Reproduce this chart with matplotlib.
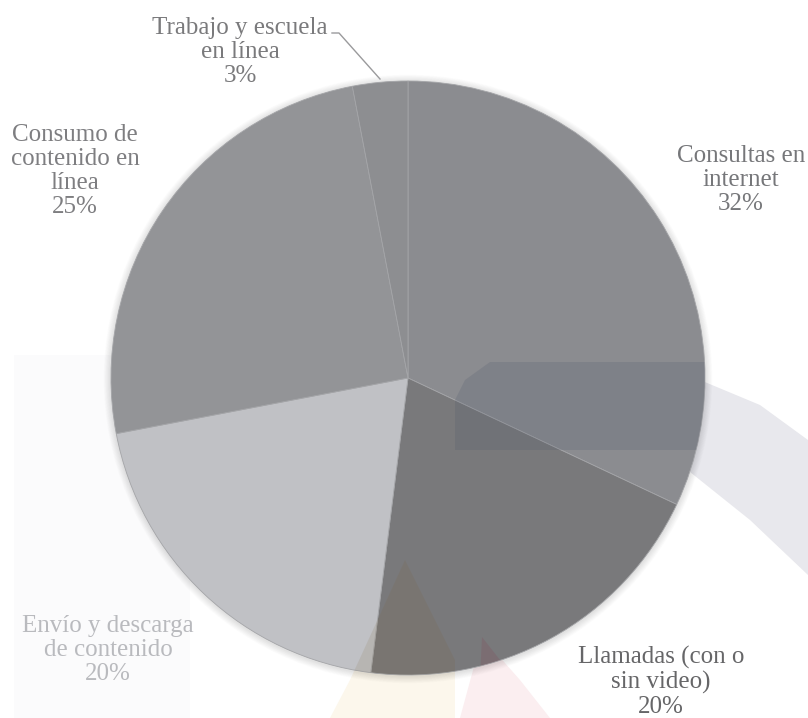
import matplotlib
matplotlib.use("Agg")
import matplotlib.pyplot as plt
from matplotlib.patches import Circle, Polygon

# Data
categories = ["Consultas en\ninternet", "Llamadas (con o\nsin video)",
              "Envío y descarga\nde contenido", "Consumo de\ncontenido en\nlínea",
              "Trabajo y escuela\nen línea"]
shares = [32, 20, 20, 25, 3]
slice_colors = ["#8b8c90", "#79797b", "#c0c1c5", "#939497", "#8d8e91"]
label_colors = ["#76777a", "#666668", "#b9babe", "#7e7e81", "#7a7a7c"]

W, H = 808, 718
CX, CY, R = 408, 378, 297

fig = plt.figure(figsize=(W / 100, H / 100), dpi=100)
ax = fig.add_axes([0, 0, 1, 1])


def fy(y):
    return H - y


# faint background logo shapes
bg_shapes = [
    ([(14, 355), (190, 355), (190, 718), (14, 718)], "#fbfbfc"),
    ([(700, 380), (760, 405), (808, 440), (808, 575), (750, 520), (690, 472)], "#e8e8ed"),
    ([(405, 560), (455, 660), (455, 718), (330, 718), (350, 680)], "#fcf7ec"),
    ([(482, 637), (520, 680), (550, 718), (460, 718)], "#fbeef0"),
]
for pts, col in bg_shapes:
    ax.add_patch(Polygon([(x, fy(y)) for x, y in pts], closed=True,
                         facecolor=col, edgecolor="none", zorder=0))

# soft shadow around the pie
for i in range(10):
    ax.add_patch(Circle((CX, fy(CY + 1)), R + 1 + i * 0.7, facecolor="#000000",
                        edgecolor="none", alpha=0.012, zorder=1))

wedges, _ = ax.pie(shares, colors=slice_colors, startangle=90, counterclock=False,
                   center=(CX, fy(CY)), radius=R, frame=True,
                   wedgeprops=dict(edgecolor="#a4a5a8", linewidth=0.6))
for w in wedges:
    w.set_zorder(2)
ax.set_xlim(0, W)
ax.set_ylim(0, H)
ax.set_aspect("equal")
ax.axis("off")

# logo tint showing through the pie
clip = Circle((CX, fy(CY)), R, transform=ax.transData)
overlays = [
    ([(465, 380), (490, 362), (712, 362), (712, 450), (455, 450), (455, 400)], "#4e5668", 0.20),
    ([(405, 560), (455, 660), (455, 718), (330, 718), (350, 680)], "#7a6030", 0.12),
    ([(482, 637), (500, 660), (495, 718), (478, 718)], "#8a3048", 0.16),
]
for pts, col, a in overlays:
    p = Polygon([(x, fy(y)) for x, y in pts], closed=True, facecolor=col,
                edgecolor="none", alpha=a, zorder=3)
    ax.add_patch(p)
    p.set_clip_path(clip)

# labels
label_pos = [(741, 180), (661, 682), (108, 650), (75, 171), (240, 52)]
for cat, val, (x, y), col in zip(categories, shares, label_pos, label_colors):
    ax.text(x, fy(y), f"{cat}\n{val}%", ha="center", va="center", color=col,
            fontsize=18, family="Liberation Serif", linespacing=1.1, zorder=5)

# leader line for the small slice
ax.plot([332, 339, 380], [fy(33), fy(33), fy(79)], color="#9a9a9c", lw=1.0, zorder=5)

fig.savefig("out.png", dpi=100, facecolor="white")
